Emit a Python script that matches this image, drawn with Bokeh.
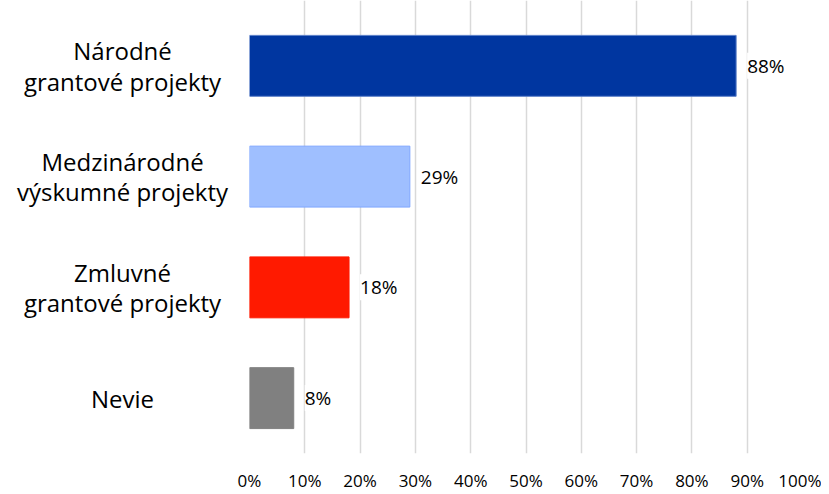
from bokeh.plotting import figure
from bokeh.layouts import row
from bokeh.models import ColumnDataSource, LabelSet, Range1d, FixedTicker
from bokeh.core.properties import value
from bokeh.embed import file_html
from bokeh.resources import INLINE

categories = ["Národné\ngrantové projekty", "Medzinárodné\nvýskumné projekty", "Zmluvné\ngrantové projekty", "Nevie"]
values = [88, 29, 18, 8]
colors = ["#0036A0", "#9FBFFF", "#FF1A00", "#808080"]
line_colors = ["#5A7FC8", "#7FA6FF", "#FF1A00", "#808080"]
labels = [f"{v}%" for v in values]
ticks = list(range(0, 101, 10))

n = len(categories)
ypos = [n - 1 - i for i in range(n)]
src = ColumnDataSource(dict(cat=categories, y=ypos, val=values, color=colors, lc=line_colors, lab=labels,
                            lx=[122] * n))

yr = Range1d(-0.5, n - 0.5 + 0.09)

LEFT_W = 229
# left panel holding the category labels
pl = figure(width=LEFT_W, height=494, output_backend="svg", toolbar_location=None,
            y_range=yr, x_range=Range1d(0, LEFT_W),
            min_border_left=0, min_border_right=0, min_border_top=0, min_border_bottom=38)
pl.text(x="lx", y="y", text="cat", source=src, text_align="center", text_baseline="middle",
        text_font=value("Open Sans"), text_font_size="24px", text_color="#000000",
        text_line_height=0.92)
pl.axis.visible = False
pl.grid.visible = False
pl.outline_line_color = None
pl.background_fill_color = "white"
pl.border_fill_color = "white"

p = figure(width=821 - LEFT_W, height=494, output_backend="svg", toolbar_location=None,
           y_range=yr, x_range=Range1d(0, 100),
           min_border_left=20, min_border_right=19, min_border_top=0, min_border_bottom=0)

p.hbar(y="y", right="val", height=0.55, source=src, fill_color="color", line_color="lc", line_width=1)

lbl = LabelSet(x="val", y="y", text="lab", source=src, x_offset=11, text_baseline="middle",
               text_font=value("Open Sans"), text_font_size="19px", text_color="#000000",
               background_fill_color="white")
p.add_layout(lbl)

p.outline_line_color = None
p.ygrid.grid_line_color = None
p.xgrid.grid_line_color = "#D9D9D9"
p.xgrid.grid_line_width = 1.5
p.xgrid.ticker = FixedTicker(ticks=ticks)

p.xaxis.ticker = FixedTicker(ticks=ticks)
p.xaxis.major_label_overrides = {t: f"{t}%" for t in ticks}
p.xaxis.axis_line_color = None
p.xaxis.major_tick_line_color = None
p.xaxis.minor_tick_line_color = None
p.xaxis.major_tick_out = 0
p.xaxis.major_tick_in = 0
p.xaxis.major_label_text_font = "Open Sans"
p.xaxis.major_label_text_font_size = "17px"
p.xaxis.major_label_text_color = "#000000"
p.xaxis.major_label_standoff = 15

p.yaxis.visible = False

p.background_fill_color = "white"
p.border_fill_color = "white"

layout = row(pl, p, spacing=0)

open("out.html", "w").write(file_html(layout, INLINE))
